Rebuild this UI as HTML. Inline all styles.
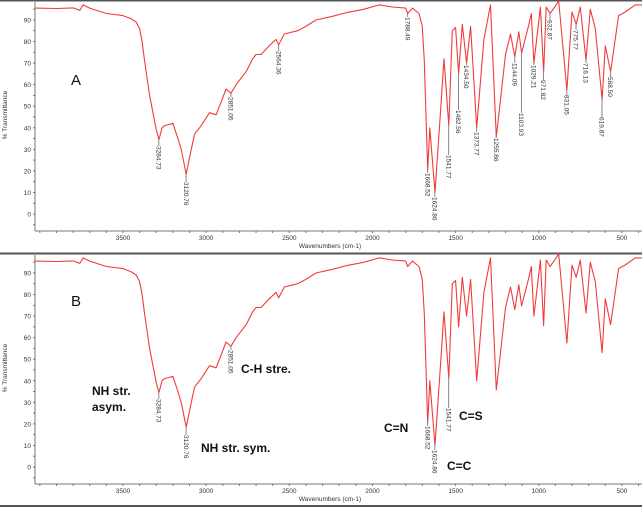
<!DOCTYPE html>
<html><head><meta charset="utf-8"><style>
html,body{margin:0;padding:0;background:#fff;}
svg{display:block;font-family:"Liberation Sans",sans-serif;}
</style></head><body>
<svg id="chart" width="642" height="507" viewBox="0 0 642 507" xmlns="http://www.w3.org/2000/svg">
<rect x="0" y="0" width="642" height="507" fill="#fff"/>
<line x1="0" y1="0.5" x2="642" y2="0.5" stroke="#555" stroke-width="2"/>
<line x1="0" y1="253.5" x2="642" y2="253.5" stroke="#555" stroke-width="2"/>
<line x1="0" y1="506" x2="642" y2="506" stroke="#555" stroke-width="2"/>
<g id="panelA"></g>
<g id="panelB"></g>
</svg>
<script>
// spectrum data (wavenumber cm-1, %T)
const wavenumbers = [4030,3900,3800,3760,3740,3700,3600,3500,3450,3420,3400,3385,3370,3340,3300,3284,3265,3250,3200,3170,3150,3120,3100,3070,3030,2980,2940,2910,2880,2851,2820,2760,2720,2700,2670,2620,2580,2564,2530,2450,2400,2340,2250,2150,2050,1960,1880,1800,1788,1760,1720,1700,1688,1668,1655,1624,1590,1570,1541,1520,1500,1482,1460,1434,1410,1373,1330,1290,1255,1230,1200,1170,1144,1120,1103,1060,1045,1029,990,971,955,932,900,880,831,800,775,750,716,690,660,619,600,568,520,480,420,380];
const transmittance = [95.5,95.3,95.6,94.5,97,95.5,93,92,90.5,89,86,80,71,55,39,34.5,40,41,42,35,30,18.5,26,37,41,47,46,52,58,56,60,66,72,74,74,78,81,78.5,83.5,85,87,90,91.5,93.5,95,97,96,95.5,93,95.5,93,87,71,20.4,40,10,48,72,41,85,86.5,65,88,70,87,40,81,97,35.7,53,74,83.5,73,84.5,74.7,87.7,93,70,96,65.6,96,93,96.5,98.8,57.5,93.7,88,96,71.4,95,86,53,78,66,92,93.7,97,97];
const xTickLabels = [3500,3000,2500,2000,1500,1000,500];
const yTickLabels = [0,10,20,30,40,50,60,70,80,90];
const peakLabelsA = ["3284.73","3120.76","2851.05","2564.36","1788.49","1668.52","1624.86","1541.77","1482.56","1434.50","1373.77","1255.86","1144.09","1103.93","1029.21","971.82","932.87","831.05","775.77","716.13","619.87","568.50"];
const peakLabelsB = ["3284.73","3120.76","2851.05","1668.52","1624.86","1541.77"];
// text top position for each peak label (layout)
const labelTopA = {"3284.73":146,"3120.76":182,"2851.05":97,"2564.36":51,"1788.49":17,"1668.52":173,"1624.86":197,"1541.77":155,"1482.56":110,"1434.50":65,"1373.77":132,"1255.86":138,"1144.09":63,"1103.93":113,"1029.21":65,"971.82":80,"932.87":20,"831.05":95,"775.77":30,"716.13":63,"619.87":117,"568.50":77};

const NS="http://www.w3.org/2000/svg";
function el(tag,attrs,parent){const e=document.createElementNS(NS,tag);for(const k in attrs)e.setAttribute(k,attrs[k]);parent.appendChild(e);return e;}
function xScale(w){return 123+(3500-w)*0.1663;}
function interpT(w){for(let i=0;i<wavenumbers.length-1;i++){if(w<=wavenumbers[i]&&w>=wavenumbers[i+1]){const f=(wavenumbers[i]-w)/(wavenumbers[i]-wavenumbers[i+1]);return transmittance[i]+f*(transmittance[i+1]-transmittance[i]);}}return transmittance[transmittance.length-1];}

function drawPanel(g,dy,labels,tops,letter,letterY){
  const yScale=t=>214+dy-t*2.156;
  const axisY=231+dy, topY=2+dy;
  const ax=el('line',{x1:35,y1:topY,x2:35,y2:axisY,stroke:'#777','stroke-width':1},g);
  
  
  const bx=el('line',{x1:35,y1:axisY,x2:642,y2:axisY,stroke:'#777','stroke-width':1},g);
  
  
  for(let w=4000;w>=400;w-=100){
    const t=el('line',{x1:xScale(w),y1:axisY,x2:xScale(w),y2:axisY+2,stroke:'#777'},g);
    
    
  }
  xTickLabels.forEach(v=>{
    const t=el('text',{x:xScale(v),y:axisY+9,'font-size':6.5,fill:'#333','text-anchor':'middle'},g);
    t.textContent=v;
    
    
  });
  for(let v=-5;v<=95;v+=5){
    const t=el('line',{x1:33,y1:yScale(v),x2:35,y2:yScale(v),stroke:'#777'},g);
    
    
  }
  yTickLabels.forEach(v=>{
    const t=el('text',{x:31,y:yScale(v)+2.5,'font-size':6.5,fill:'#333','text-anchor':'end'},g);
    t.textContent=v;
    
    
  });
  const yt=el('text',{x:0,y:0,'font-size':6.5,fill:'#333','text-anchor':'middle',transform:`translate(7,${115+dy}) rotate(-90)`},g);
  yt.textContent='% Transmittance';
  
  
  const xt=el('text',{x:330,y:axisY+17,'font-size':6.5,fill:'#333','text-anchor':'middle'},g);
  xt.textContent='Wavenumbers (cm-1)';
  
  
  let d='';
  wavenumbers.forEach((w,i)=>{d+=(i?'L':'M')+xScale(w).toFixed(1)+' '+yScale(transmittance[i]).toFixed(1);});
  const p=el('path',{d:d,fill:'none',stroke:'#f03c3c','stroke-width':1.1,'stroke-linejoin':'round'},g);
  
  
  labels.forEach(s=>{
    const w=parseFloat(s),x=xScale(w),py=yScale(interpT(w)),ty=tops[s]+dy;
    const ln=el('line',{x1:x,y1:py,x2:x,y2:Math.max(py+2,ty),stroke:'#888','stroke-width':1},g);
    
    
    const t=el('text',{x:0,y:0,'font-size':6.5,fill:'#333',transform:`translate(${x-2.3},${Math.max(py+2,ty)}) rotate(90)`},g);
    t.textContent=s;
    
    
  });
  const L=el('text',{x:71,y:letterY,'font-size':15,fill:'#111'},g);
  L.textContent=letter;
  
  
}
drawPanel(document.getElementById('panelA'),0,peakLabelsA,labelTopA,'A',85);
drawPanel(document.getElementById('panelB'),253,peakLabelsB,labelTopA,'B',306);

const annotations=[["NH str.",92,395],["asym.",92,411],["NH str. sym.",201,452],["C-H stre.",241,373],["C=N",384,432],["C=S",459,420],["C=C",447,470]];
const gB=document.getElementById('panelB');
annotations.forEach(a=>{
  const t=el('text',{x:a[1],y:a[2],'font-size':12,'font-weight':'bold',fill:'#111'},gB);
  t.textContent=a[0];
  
  
});
</script>
</body></html>
